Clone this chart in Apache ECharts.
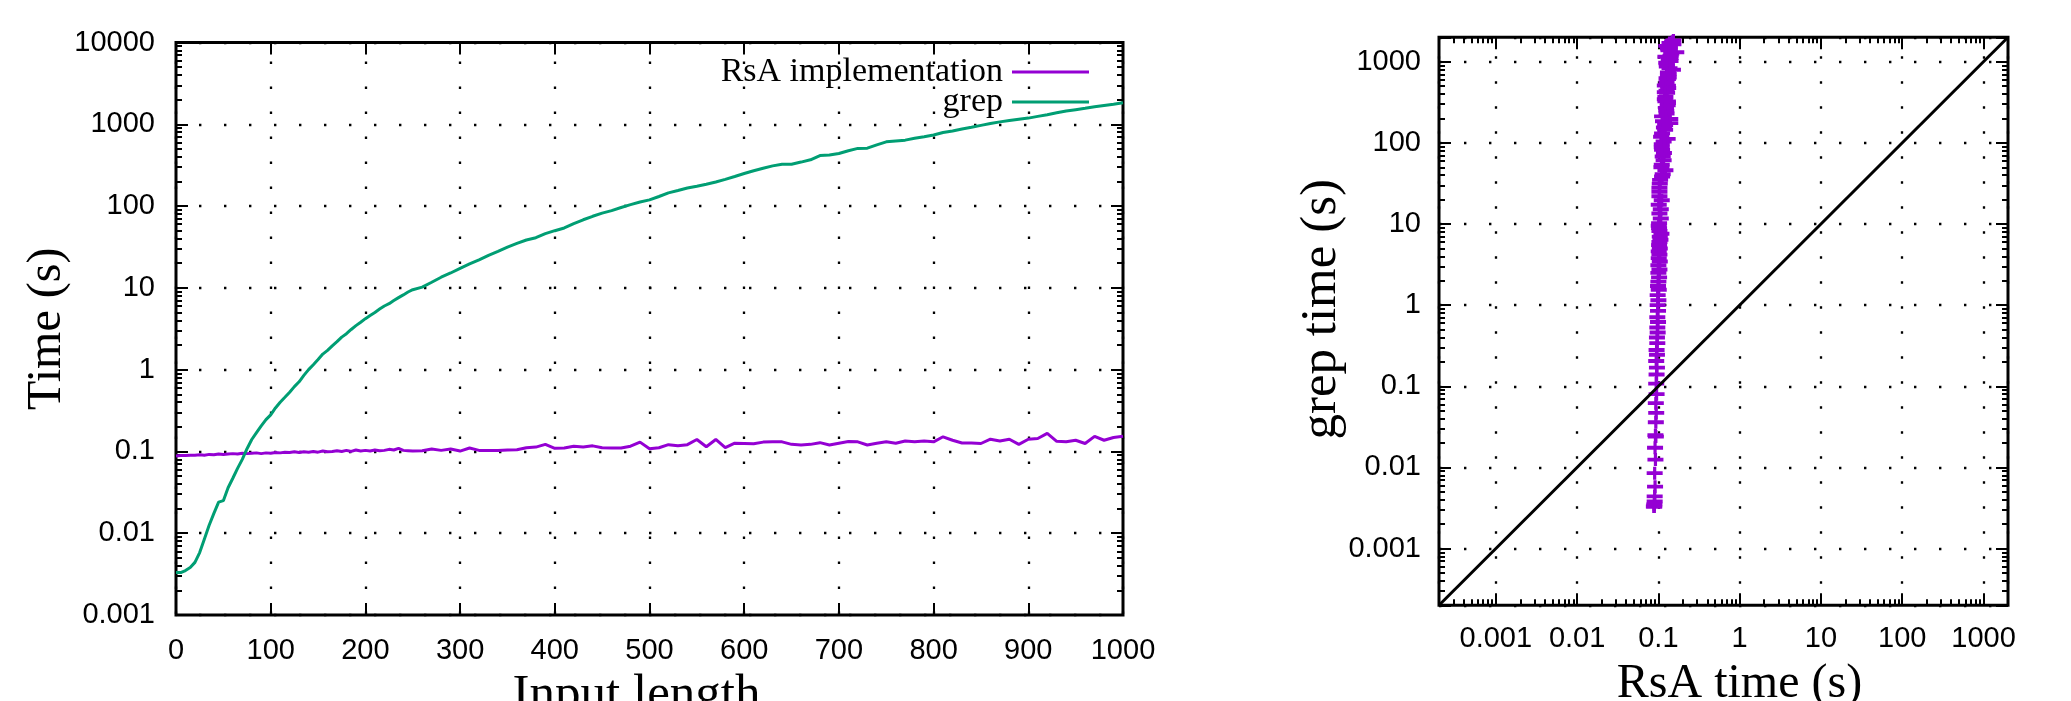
<!DOCTYPE html>
<html>
<head>
<meta charset="utf-8">
<script src="https://cdn.jsdelivr.net/npm/echarts@6/dist/echarts.min.js"></script>
<style>
html,body{margin:0;padding:0;background:#fff;}
#chart{width:2071px;height:701px;}
</style>
</head>
<body>
<div id="chart"></div>
<script>
// ---------------- DATA ----------------
const lengths = [0,5,10,15,20,25,30,35,40,45,50,55,60,65,70,75,80,85,90,95,100,105,110,115,120,125,130,135,140,145,150,155,160,165,170,175,180,185,190,195,200,205,210,215,220,225,230,235,240,245,250,
260,270,280,290,300,310,320,330,340,350,360,370,380,390,400,410,420,430,440,450,460,470,480,490,500,510,520,530,540,550,560,570,580,590,600,610,620,630,640,650,660,670,680,690,700,710,720,730,740,750,760,770,780,790,800,810,820,830,840,850,860,870,880,890,900,910,920,930,940,950,960,970,980,990,1000];

const rsaTimes = [0.088,0.089,0.089,0.090,0.090,0.091,0.090,0.092,0.091,0.093,0.092,0.093,0.094,0.093,0.095,0.094,0.095,0.096,0.094,0.096,0.095,0.097,0.096,0.098,0.097,0.099,0.097,0.099,0.098,0.100,0.098,0.101,0.099,0.100,0.102,0.100,0.103,0.100,0.104,0.101,0.103,0.101,0.104,0.102,0.103,0.106,0.104,0.109,0.103,0.102,0.101,
0.102,0.107,0.103,0.107,0.101,0.110,0.103,0.103,0.103,0.104,0.105,0.111,0.113,0.122,
0.109,0.110,0.116,0.113,0.117,0.111,0.110,0.110,0.116,0.130,
0.108,0.111,0.121,0.117,0.121,0.140,0.114,0.140,0.111,0.126,
0.125,0.124,0.130,0.131,0.131,0.122,0.120,0.122,0.128,0.120,
0.126,0.132,0.131,0.120,0.126,0.131,0.126,0.134,0.131,0.134,
0.131,0.151,0.137,0.127,0.127,0.125,0.141,0.134,0.141,0.122,
0.141,0.144,0.166,0.133,0.131,0.137,0.125,0.153,0.137,0.148,
0.153];

const grepTimes = [0.0033,0.0033,0.0035,0.0038,0.0044,0.0058,0.0085,0.0125,0.0175,0.024,0.025,0.036,0.047,0.062,0.080,0.108,0.140,0.170,0.205,0.245,0.280,0.340,0.400,0.460,0.530,0.620,0.710,0.850,1.00,1.15,1.33,1.55,1.72,1.95,2.20,2.50,2.75,3.10,3.45,3.80,4.20,4.60,5.00,5.50,6.00,6.40,7.00,7.60,8.20,8.90,9.50,
10.2,11.7,13.5,15.2,17.3,19.6,22,25,28,31.5,35,38.5,41,46,
50,54,61,68,75,82,88,96,104,112,
119,131,145,155,166,175,185,197,212,230,
250,270,290,310,324,325,345,368,415,420,
440,475,507,510,560,610,625,640,675,705,
740,795,830,875,920,970,1020,1070,1110,1150,
1190,1250,1310,1380,1450,1510,1570,1640,1700,1760,
1830];

const seriesNames = ['RsA implementation', 'grep'];
const leftXRange = [0, 1000];
const leftXStep = 100;
const leftYRange = [0.001, 10000];
const leftYTickLabels = ['0.001','0.01','0.1','1','10','100','1000','10000'];
const rightRange = [0.0002, 2000];
const rightTickLabels = ['0.001','0.01','0.1','1','10','100','1000'];
const decades = [0.0001,0.001,0.01,0.1,1,10,100,1000,10000];
const minorMultipliers = [2,3,4,5,6,7,8,9];
const leftXName = 'Input length';
const leftYName = 'Time (s)';
const rightXName = 'RsA time (s)';
const rightYName = 'grep time (s)';

// ---------------- HELPERS ----------------
const BLACK = '#000';
const PURPLE = '#9400d3';
const GREEN = '#009e73';
const SANS = 'Liberation Sans';
const SERIF = 'Liberation Serif';

function minorLog(lo, hi) {
  const out = [];
  decades.forEach(d => minorMultipliers.forEach(m => {
    const v = d * m;
    if (v > lo * 1.0001 && v < hi * 0.9999) out.push(Math.log10(v));
  }));
  return out;
}
function labelFormatter(labels) {
  return function (v) {
    const s = String(+Number(v).toPrecision(6));
    return labels.indexOf(s) >= 0 ? s : '';
  };
}
const tickLabelStyle = {fontFamily: SANS, fontSize: 29, color: BLACK};
const nameStyle = (size) => ({fontFamily: SERIF, fontSize: size, color: BLACK});
const majorTick = {show: true, inside: true, length: 12, lineStyle: {color: BLACK, width: 2}};
const minorTickStyle = {show: true, inside: true, length: 6, lineStyle: {color: BLACK, width: 2}};
const dotted = (offset) => ({show: true, lineStyle: {color: BLACK, width: 2.3, type: [2.4, 22.6], dashOffset: offset}});
const noLine = {show: false, onZero: false};

function mirrorLogAxis(gridIndex, position, range) {
  return {gridIndex, type: 'log', logBase: 10, position, min: range[0], max: range[1],
    axisLine: noLine, axisTick: majorTick, axisLabel: {show: false}, splitLine: {show: false}};
}
function minorAxis(gridIndex, position, range) {
  const vals = minorLog(range[0], range[1]);
  return {gridIndex, type: 'value', position, min: Math.log10(range[0]), max: Math.log10(range[1]),
    axisLine: noLine, axisLabel: {show: false}, splitLine: {show: false},
    axisTick: Object.assign({}, minorTickStyle, {customValues: vals})};
}

// ---------------- OPTION ----------------
const chart = echarts.init(document.getElementById('chart'), null, {renderer: 'canvas'});

const option = {
  animation: false,
  backgroundColor: '#fff',
  grid: [
    {left: 176, top: 42.5, width: 947, height: 572.5, show: true, borderColor: BLACK, borderWidth: 3,
     backgroundColor: 'transparent', containLabel: false, outerBoundsMode: 'none'},
    {left: 1439, top: 37.3, width: 569, height: 568, show: true, borderColor: BLACK, borderWidth: 3,
     backgroundColor: 'transparent', containLabel: false, outerBoundsMode: 'none'}
  ],
  legend: {
    data: seriesNames, orient: 'vertical', align: 'right',
    right: 977, top: 50, padding: 5,
    icon: 'rect', itemWidth: 77, itemHeight: 3, itemGap: -4,
    textStyle: {fontFamily: SERIF, fontSize: 34, color: BLACK, lineHeight: 30, padding: [0, 4, 0, 0]},
    selectedMode: false
  },
  xAxis: [
    {gridIndex: 0, type: 'value', position: 'bottom', min: leftXRange[0], max: leftXRange[1], interval: leftXStep,
     axisLine: noLine, axisTick: majorTick,
     axisLabel: Object.assign({margin: 21, formatter: (v) => String(v)}, tickLabelStyle),
     splitLine: dotted(6),
     name: leftXName, nameLocation: 'middle', nameGap: 55, nameMoveOverlap: false,
     nameTextStyle: Object.assign({padding: [0, 26, 0, 0]}, nameStyle(51))},
    {gridIndex: 0, type: 'value', position: 'top', min: leftXRange[0], max: leftXRange[1], interval: leftXStep,
     axisLine: noLine, axisTick: majorTick, axisLabel: {show: false}, splitLine: {show: false}},
    {gridIndex: 1, type: 'log', logBase: 10, position: 'bottom', min: rightRange[0], max: rightRange[1],
     axisLine: noLine, axisTick: majorTick,
     axisLabel: Object.assign({margin: 19, formatter: labelFormatter(rightTickLabels), showMinLabel: true, showMaxLabel: true}, tickLabelStyle),
     splitLine: dotted(6),
     name: rightXName, nameLocation: 'middle', nameGap: 55, nameMoveOverlap: false,
     nameTextStyle: Object.assign({padding: [0, 0, 0, 32]}, nameStyle(48))},
    mirrorLogAxis(1, 'top', rightRange),
    minorAxis(1, 'bottom', rightRange),
    minorAxis(1, 'top', rightRange)
  ],
  yAxis: [
    {gridIndex: 0, type: 'log', logBase: 10, position: 'left', min: leftYRange[0], max: leftYRange[1],
     axisLine: noLine, axisTick: majorTick,
     axisLabel: Object.assign({margin: 21, formatter: labelFormatter(leftYTickLabels)}, tickLabelStyle),
     splitLine: dotted(2),
     name: leftYName, nameLocation: 'middle', nameGap: 105, nameMoveOverlap: false, nameTextStyle: nameStyle(48)},
    mirrorLogAxis(0, 'right', leftYRange),
    minorAxis(0, 'left', leftYRange),
    minorAxis(0, 'right', leftYRange),
    {gridIndex: 1, type: 'log', logBase: 10, position: 'left', min: rightRange[0], max: rightRange[1],
     axisLine: noLine, axisTick: majorTick,
     axisLabel: Object.assign({margin: 18, formatter: labelFormatter(rightTickLabels)}, tickLabelStyle),
     splitLine: dotted(0),
     name: rightYName, nameLocation: 'middle', nameGap: 92, nameMoveOverlap: false,
     nameTextStyle: Object.assign({padding: [0, 0, 0, 24]}, nameStyle(51))},
    mirrorLogAxis(1, 'right', rightRange),
    minorAxis(1, 'left', rightRange),
    minorAxis(1, 'right', rightRange)
  ],
  series: [
    {name: seriesNames[0], type: 'line', xAxisIndex: 0, yAxisIndex: 0,
     data: lengths.map((n, i) => [n, rsaTimes[i]]),
     showSymbol: false, symbol: 'none', clip: true, color: PURPLE,
     lineStyle: {color: PURPLE, width: 3}, itemStyle: {color: PURPLE}},
    {name: seriesNames[1], type: 'line', xAxisIndex: 0, yAxisIndex: 0,
     data: lengths.map((n, i) => [n, grepTimes[i]]),
     showSymbol: false, symbol: 'none', clip: true, color: GREEN,
     lineStyle: {color: GREEN, width: 3}, itemStyle: {color: GREEN}},
    {name: 'RsA vs grep', type: 'scatter', xAxisIndex: 2, yAxisIndex: 4,
     data: lengths.map((n, i) => [rsaTimes[i], grepTimes[i]]),
     symbol: 'path://M0,4.2H12V7.8H0Z M4.8,0H7.2V12H4.8Z', symbolSize: [16, 13], clip: true,
     itemStyle: {color: PURPLE, opacity: 1}},
    {name: 'y = x', type: 'line', xAxisIndex: 2, yAxisIndex: 4,
     data: [[rightRange[0], rightRange[0]], [rightRange[1], rightRange[1]]],
     showSymbol: false, symbol: 'none', clip: true, silent: true,
     lineStyle: {color: BLACK, width: 3}, itemStyle: {color: BLACK}}
  ]
};
chart.setOption(option);
</script>
</body>
</html>
